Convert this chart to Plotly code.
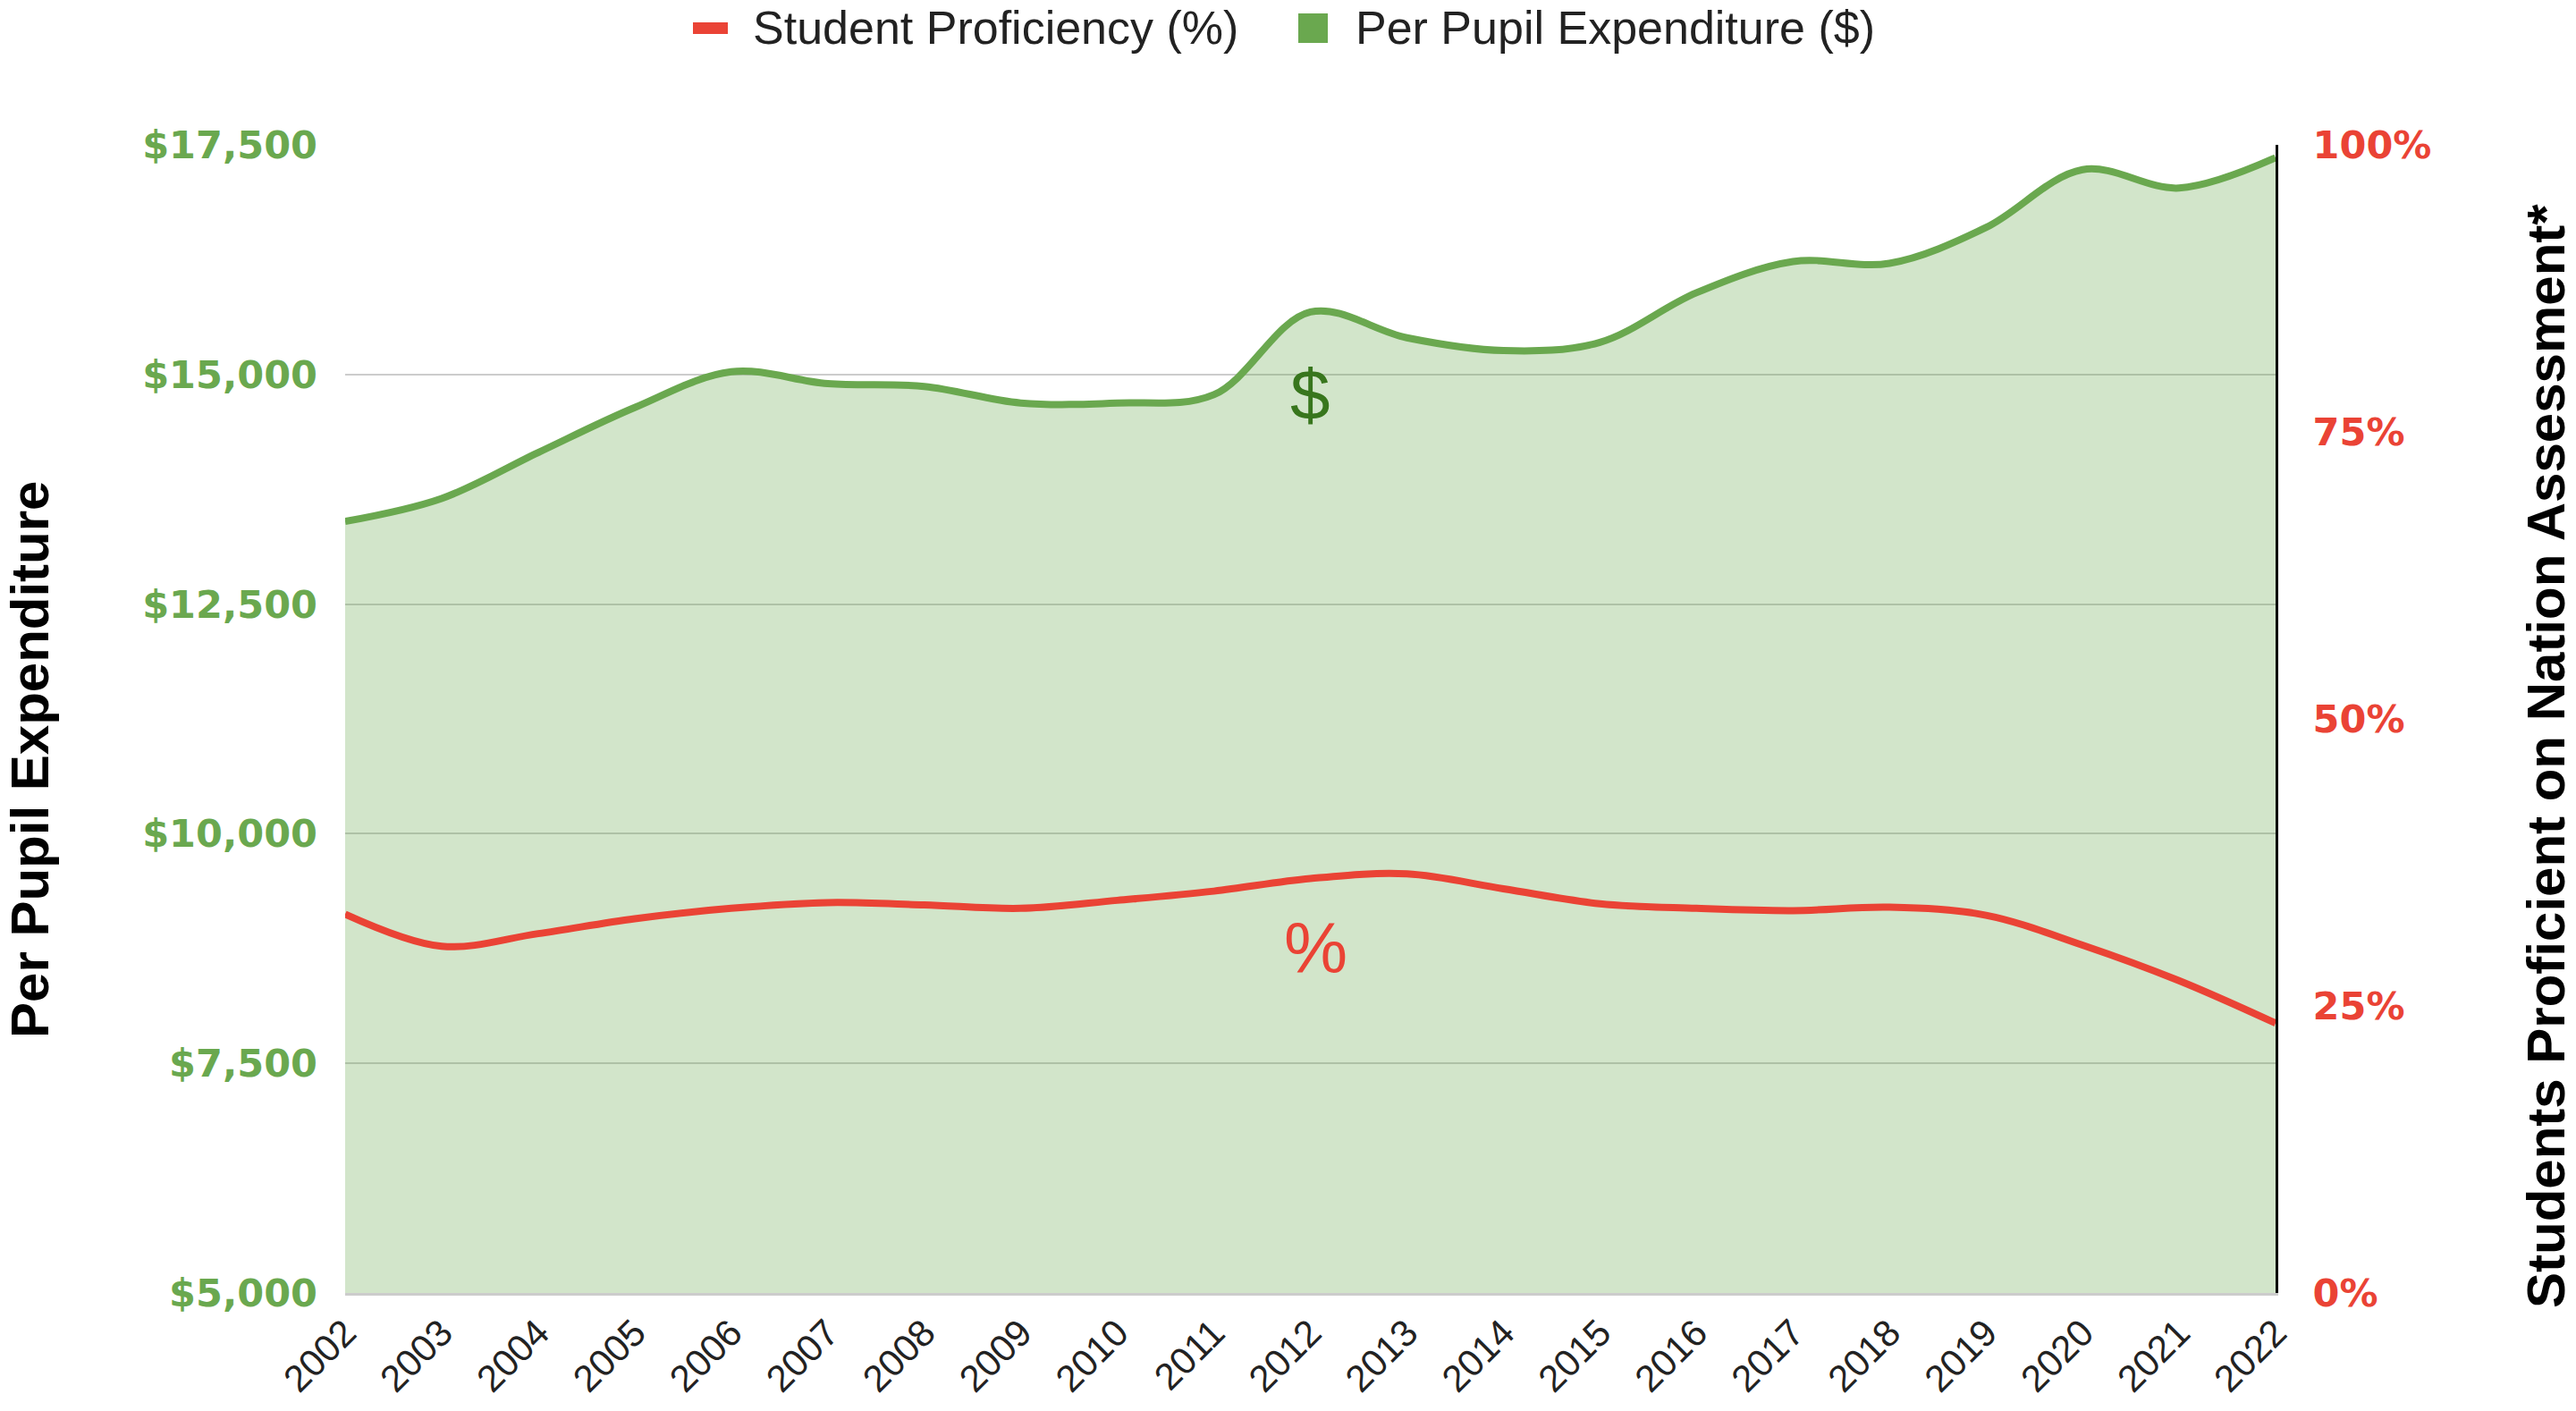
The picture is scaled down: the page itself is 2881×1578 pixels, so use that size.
import plotly.graph_objects as go

years = list(range(2002, 2023))
year_labels = [str(y) for y in years]

expenditure = [13400, 13650, 14150, 14640, 15030, 14900, 14870, 14690, 14690, 14780,
               15680, 15400, 15260, 15350, 15890, 16230, 16210, 16600, 17230, 17030, 17360]

proficiency = [33.0, 30.2, 31.3, 32.6, 33.5, 34.0, 33.8, 33.5, 34.2, 35.0,
               36.1, 36.5, 35.2, 33.9, 33.5, 33.3, 33.6, 32.9, 30.3, 27.2, 23.5]

left_ticks = [5000, 7500, 10000, 12500, 15000, 17500]
left_tick_text = ["$5,000", "$7,500", "$10,000", "$12,500", "$15,000", "$17,500"]
right_ticks = [0, 25, 50, 75, 100]
right_tick_text = ["0%", "25%", "50%", "75%", "100%"]

series_names = ["Student Proficiency (%)", "Per Pupil Expenditure ($)"]

GREEN = "#6aa84f"
RED = "#ea4335"
FONT = "Liberation Sans, Arial, sans-serif"
TICKFONT = "DejaVu Sans, sans-serif"

W, H = 2881, 1578
ML, MR, MT, MB = 386, 336, 162, 132
PW = W - ML - MR
PH = H - MT - MB


def px_x(px):
    return (px - ML) / PW


def px_y(py):
    return (H - py - MB) / PH


fig = go.Figure()

fig.add_trace(go.Scatter(
    x=years, y=expenditure, name=series_names[1],
    mode="lines", line=dict(color=GREEN, width=8, shape="spline", smoothing=1),
    fill="tozeroy", fillcolor="rgba(106,168,79,0.3)",
    showlegend=False, yaxis="y",
))

fig.add_trace(go.Scatter(
    x=years, y=proficiency, name=series_names[0],
    mode="lines", line=dict(color=RED, width=8, shape="spline", smoothing=1),
    showlegend=False, yaxis="y2",
))

fig.update_layout(
    width=W, height=H,
    margin=dict(l=ML, r=MR, t=MT, b=MB),
    paper_bgcolor="white", plot_bgcolor="white",
    font=dict(family=FONT, color="#222222"),
    showlegend=False,
    xaxis=dict(range=[2002, 2022], tickmode="array", tickvals=years, ticktext=year_labels,
               tickangle=-45, tickfont=dict(size=42, color="#222222", family=FONT),
               showgrid=False, showline=True, linecolor="#cccccc", linewidth=3,
               zeroline=False, ticks=""),
    yaxis=dict(range=[5000, 17500], tickmode="array", tickvals=left_ticks,
               ticktext=left_tick_text,
               tickfont=dict(size=43, color=GREEN, family=TICKFONT, weight="bold"),
               showgrid=True, gridcolor="#cccccc", gridwidth=2, zeroline=False,
               ticklabelstandoff=30),
    yaxis2=dict(range=[0, 100], overlaying="y", side="right", tickmode="array",
                tickvals=right_ticks, ticktext=right_tick_text,
                tickfont=dict(size=43, color=RED, family=TICKFONT, weight="bold"),
                showgrid=False, zeroline=False, showline=True, linecolor="#000000",
                linewidth=3, ticklabelstandoff=30),
)

# legend drawn at the top (symbols + labels)
fig.add_shape(type="rect", xref="paper", yref="paper",
              x0=px_x(775), x1=px_x(814), y0=px_y(38), y1=px_y(25),
              fillcolor=RED, line=dict(width=0))
fig.add_shape(type="rect", xref="paper", yref="paper",
              x0=px_x(1452), x1=px_x(1485), y0=px_y(48), y1=px_y(15),
              fillcolor=GREEN, line=dict(width=0))
fig.add_annotation(text=series_names[0], x=px_x(840), y=px_y(31), xref="paper", yref="paper",
                   xanchor="left", yanchor="middle", showarrow=False,
                   font=dict(size=52, color="#222222", family=FONT))
fig.add_annotation(text=series_names[1], x=px_x(1514), y=px_y(31), xref="paper", yref="paper",
                   xanchor="left", yanchor="middle", showarrow=False,
                   font=dict(size=52, color="#222222", family=FONT))

# series markers in the plot
fig.add_annotation(text="$", x=2012, y=14780, xref="x", yref="y", showarrow=False,
                   font=dict(size=80, color="#38761d", family=FONT))
fig.add_annotation(text="%", x=2012.06, y=30, xref="x", yref="y2", showarrow=False,
                   font=dict(size=80, color=RED, family=FONT))

# axis titles
fig.add_annotation(text="<b>Per Pupil Expenditure</b>", textangle=-90,
                   x=px_x(33), y=px_y(850), xanchor="center", yanchor="middle",
                   xref="paper", yref="paper", showarrow=False,
                   font=dict(size=60, color="#000000", family=FONT))
fig.add_annotation(text="<b>Students Proficient on Nation Assessment*</b>", textangle=-90,
                   x=px_x(2848), y=px_y(846), xanchor="center", yanchor="middle",
                   xref="paper", yref="paper", showarrow=False,
                   font=dict(size=60, color="#000000", family=FONT))

fig.write_html("out.html", config={"displayModeBar": False},
               post_script="document.body.style.margin='0';")
